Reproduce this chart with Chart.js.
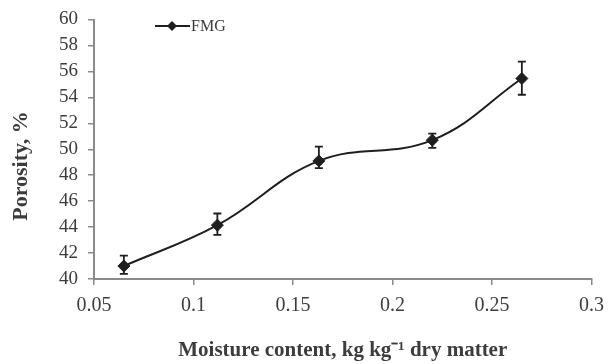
<!DOCTYPE html>
<html>
<head>
<meta charset="utf-8">
<script src="https://cdn.jsdelivr.net/npm/chart.js@4/dist/chart.umd.min.js"></script>
<style>
    html, body { margin: 0; padding: 0; background: #fff; }
    #wrap { width: 613px; height: 364px; }
</style>
</head>
<body>
<div id="wrap"><canvas id="myChart"></canvas></div>
<script>
const moisture = [0.065, 0.112, 0.163, 0.22, 0.265];     //kg/kg dry matter
const porosity = [41.0, 44.15, 49.1, 50.7, 55.45];        //%
const errUp = [0.8, 0.9, 1.1, 0.5, 1.3];
const errDown = [0.6, 0.75, 0.55, 0.6, 1.25];
const seriesName = "FMG";
const yTitle = "Porosity, %";
const xTitle = "Moisture content, kg kg\u207B\u00B9 dry matter";

const textColor = "#3c3c3c";
const axisColor = "#8a8a8a";
const markColor = "#1e1e1e";
const serif = "'Liberation Serif', 'Times New Roman', serif";

const points = moisture.map((m, i) => ({x: m, y: porosity[i]}));

// error bars are drawn under the markers, through the chart scales
const errorBars = {
    id: "errorBars",
    beforeDatasetsDraw(chart) {
        const ctx = chart.ctx;
        const xs = chart.scales.x, ys = chart.scales.y;
        ctx.save();
        ctx.strokeStyle = markColor;
        ctx.lineWidth = 1.8;
        points.forEach((p, i) => {
            const px = xs.getPixelForValue(p.x);
            const top = ys.getPixelForValue(p.y + errUp[i]);
            const bot = ys.getPixelForValue(p.y - errDown[i]);
            ctx.beginPath();
            ctx.moveTo(px, top); ctx.lineTo(px, bot);
            ctx.moveTo(px - 4, top); ctx.lineTo(px + 4, top);
            ctx.moveTo(px - 4, bot); ctx.lineTo(px + 4, bot);
            ctx.stroke();
        });
        ctx.restore();
    }
};

// y title and the small legend inside the plot
const extras = {
    id: "extras",
    afterDraw(chart) {
        const ctx = chart.ctx;
        ctx.save();
        ctx.fillStyle = textColor;
        ctx.font = "bold 22px " + serif;
        ctx.textAlign = "center";
        ctx.textBaseline = "middle";
        ctx.translate(21, 166);
        ctx.rotate(-Math.PI / 2);
        ctx.fillText(yTitle, 0, 0);
        ctx.restore();

        ctx.save();
        ctx.strokeStyle = markColor;
        ctx.lineWidth = 1.8;
        ctx.beginPath();
        ctx.moveTo(155, 26); ctx.lineTo(190, 26);
        ctx.stroke();
        ctx.fillStyle = markColor;
        ctx.beginPath();
        ctx.moveTo(172, 21); ctx.lineTo(177, 26); ctx.lineTo(172, 31); ctx.lineTo(167, 26);
        ctx.closePath();
        ctx.fill();
        ctx.fillStyle = textColor;
        ctx.font = "16px " + serif;
        ctx.textAlign = "left";
        ctx.textBaseline = "middle";
        ctx.fillText(seriesName, 191, 27);
        ctx.restore();
    }
};

const ctx = document.getElementById("myChart").getContext("2d");
Chart.defaults.font.family = serif;
Chart.defaults.color = textColor;

const myChart = new Chart(ctx, {
    type: "scatter",
    data: {
        datasets: [{
            label: seriesName,
            data: points,
            showLine: true,
            tension: 0.4,
            borderColor: markColor,
            borderWidth: 2,
            pointStyle: "rectRot",
            pointRadius: 6,
            pointBackgroundColor: markColor,
            pointBorderColor: markColor,
            pointBorderWidth: 1
        }]
    },
    options: {
        responsive: true,
        maintainAspectRatio: false,
        animation: false,
        layout: {
            padding: {top: 19, right: 19, left: 0, bottom: 0}
        },
        scales: {
            x: {
                type: "linear",
                min: 0.05,
                max: 0.3,
                afterFit: (scale) => { scale.height = 85; },
                ticks: {
                    stepSize: 0.05,
                    padding: 9,
                    font: {size: 20},
                    callback: (value) => parseFloat(value.toFixed(2)).toString()
                },
                grid: {
                    drawOnChartArea: false,
                    tickLength: 6,
                    color: axisColor,
                    lineWidth: 1.5
                },
                border: {color: axisColor, width: 2},
                title: {
                    display: true,
                    text: xTitle,
                    font: {size: 21, weight: "bold"},
                    padding: {top: 0, bottom: 1}
                }
            },
            y: {
                min: 40,
                max: 60,
                afterFit: (scale) => { scale.width = 94; },
                ticks: {
                    stepSize: 2,
                    autoSkip: false,
                    padding: 10,
                    font: {size: 19, lineHeight: 1}
                },
                grid: {
                    drawOnChartArea: false,
                    tickLength: 6,
                    color: axisColor,
                    lineWidth: 1.5
                },
                border: {color: axisColor, width: 2}
            }
        },
        plugins: {
            legend: {display: false},
            tooltip: {enabled: false}
        }
    },
    plugins: [errorBars, extras]
});
</script>
</body>
</html>
